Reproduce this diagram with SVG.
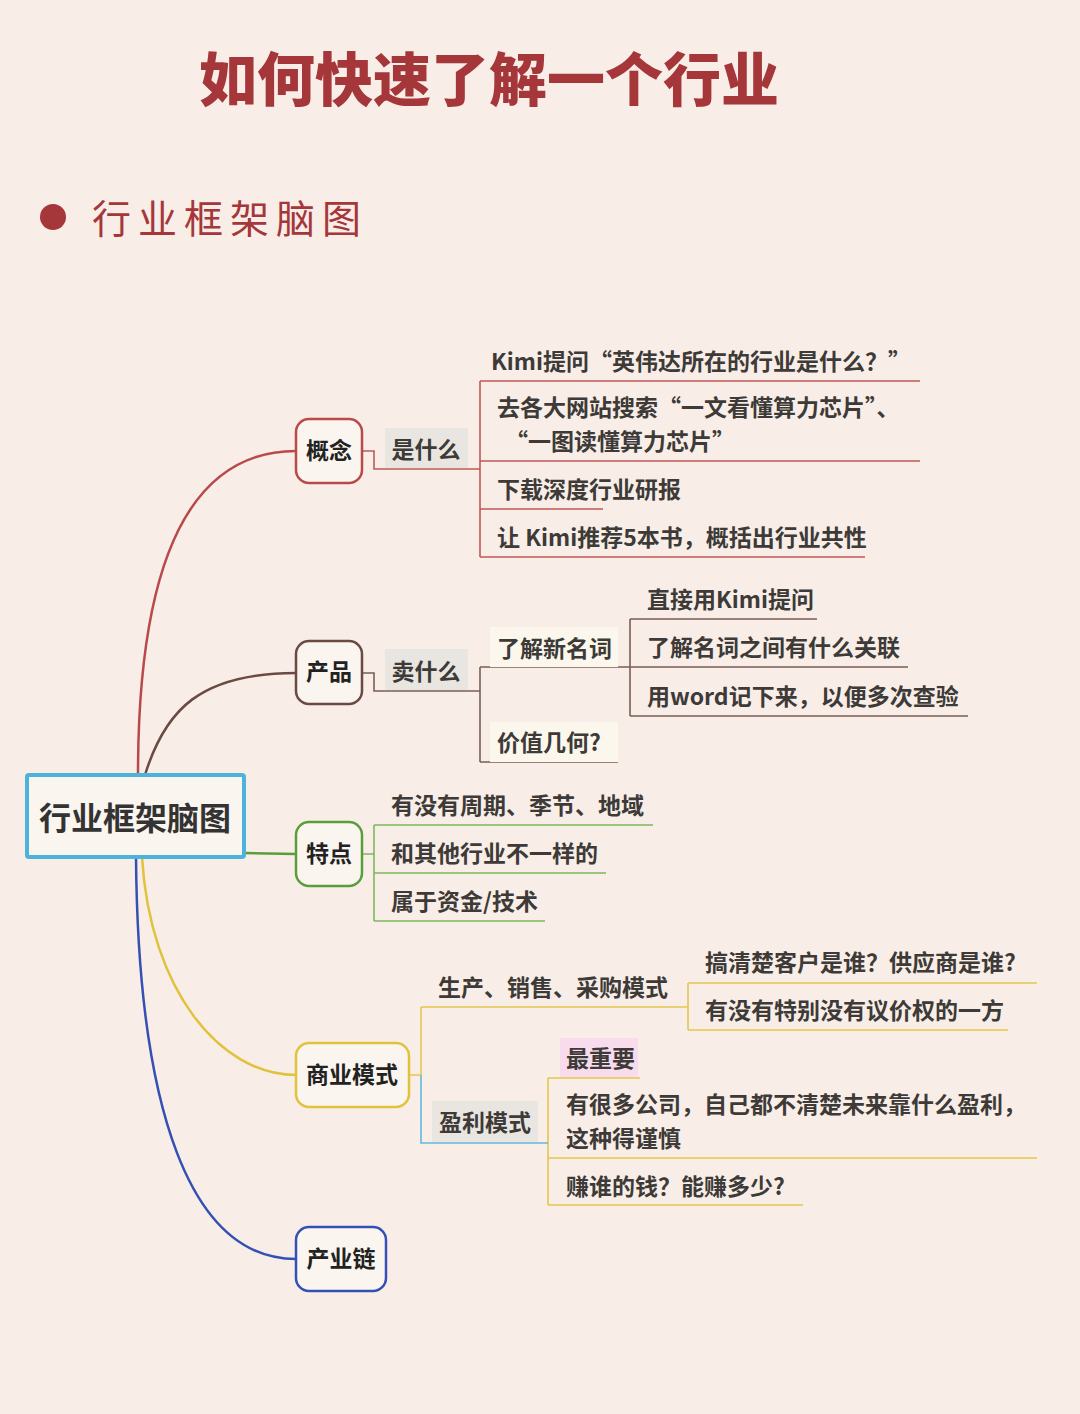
<svg xmlns="http://www.w3.org/2000/svg" width="1080" height="1414" viewBox="0 0 1080 1414">
<style>
text{font-family:"Noto Sans CJK SC","Liberation Sans",sans-serif;}
.t{font-size:23px;font-weight:700;fill:#3d3a38;}
.nt{font-size:23px;font-weight:700;fill:#222;}
.node{fill:#fbf5ef;stroke-width:2.5;}
.lbl{fill:#e9e5e1;}
.lbl2{fill:#fbf7ec;}
.c{fill:none;stroke-width:1.6;}
.br{fill:none;stroke-width:2.5;}
</style>
<rect width="1080" height="1414" fill="#f8eee7"/>
<text x="489" y="101" text-anchor="middle" style="font-size:58px;font-weight:900;fill:#a5363a">如何快速了解一个行业</text>
<circle cx="53" cy="217" r="13" fill="#a5363a"/>
<text x="92" y="233" style="font-size:39px;font-weight:400;fill:#a5363a;letter-spacing:7px">行业框架脑图</text>

<g id="connectors">
  <path class="br" stroke="#b84a4a" d="M138,775 C138,560 190,451 296,451"/>
  <path class="br" stroke="#6a4a42" d="M145,775 C165,710 200,673 296,673"/>
  <path class="br" stroke="#5a9e3c" d="M244,853 L296,854"/>
  <path class="br" stroke="#e0c23c" d="M142,857 C150,990 220,1075 296,1075"/>
  <path class="br" stroke="#3450b4" d="M136,857 C138,1110 190,1259 296,1259"/>
  <!-- 概念 -->
  <path class="c" stroke="#c05858" d="M362,451 H374 V469 H480 M480,381 V557 M480,381 H920 M480,461 H920 M480,509 H603 M480,557 H865"/>
  <!-- 产品 -->
  <path class="c" stroke="#7a5e56" d="M362,673 H374 V691 H480 M480,667 V762 M480,667 H630 M480,762 H618 M630,619 V716 M630,619 H817 M630,667 H908 M630,716 H968"/>
  <!-- 特点 -->
  <path class="c" stroke="#7cb85c" d="M362,854 H374 M374,825 V921 M374,825 H653 M374,873 H606 M374,921 H545"/>
  <!-- 商业模式 -->
  <path class="c" stroke="#e3c84e" d="M409,1075 H421 M421,1007 V1075 M421,1007 H688 M688,983 V1030 M688,983 H1037 M688,1030 H1008 M548,1078 V1205 M548,1078 H640 M548,1158 H1037 M548,1205 H803"/>
  <path class="c" stroke="#62b8e0" d="M421,1075 V1143 H548"/>
</g>

<g id="root">
  <rect x="27" y="775" width="217" height="82" fill="#fbf5ef" stroke="#4bb3dc" stroke-width="4" rx="2"/>
  <text x="135" y="830" text-anchor="middle" style="font-size:32px;font-weight:700;fill:#333">行业框架脑图</text>
</g>

<g id="n-gainian">
  <rect class="node" x="296" y="419" width="66" height="64" rx="13" stroke="#b84a4a"/>
  <text class="nt" x="329" y="459" text-anchor="middle">概念</text>
</g>
<g id="n-shishenme">
  <rect class="lbl" x="385" y="428" width="83" height="40"/>
  <text class="t" x="426" y="458" text-anchor="middle">是什么</text>
</g>
<g id="n-g1"><text class="t" x="491" y="370">Kimi提问“英伟达所在的行业是什么？”</text></g>
<g id="n-g2"><text class="t" x="497" y="416">去各大网站搜索“一文看懂算力芯片”、</text><text class="t" x="505" y="450">“一图读懂算力芯片”</text></g>
<g id="n-g3"><text class="t" x="497" y="498">下载深度行业研报</text></g>
<g id="n-g4"><text class="t" x="497" y="546">让 Kimi推荐5本书，概括出行业共性</text></g>

<g id="n-chanpin">
  <rect class="node" x="296" y="641" width="66" height="63" rx="13" stroke="#6a4a42"/>
  <text class="nt" x="329" y="680" text-anchor="middle">产品</text>
</g>
<g id="n-maishenme">
  <rect class="lbl" x="385" y="649" width="83" height="41"/>
  <text class="t" x="426" y="680" text-anchor="middle">卖什么</text>
</g>
<g id="n-xinmingci">
  <rect class="lbl2" x="490" y="627" width="128" height="40"/>
  <text class="t" x="497" y="657">了解新名词</text>
</g>
<g id="n-p1"><text class="t" x="647" y="608">直接用Kimi提问</text></g>
<g id="n-p2"><text class="t" x="647" y="656">了解名词之间有什么关联</text></g>
<g id="n-p3"><text class="t" x="647" y="705">用word记下来，以便多次查验</text></g>
<g id="n-jiazhi">
  <rect class="lbl2" x="490" y="722" width="128" height="40"/>
  <text class="t" x="497" y="751">价值几何?</text>
</g>

<g id="n-tedian">
  <rect class="node" x="296" y="822" width="66" height="64" rx="13" stroke="#5a9e3c"/>
  <text class="nt" x="329" y="862" text-anchor="middle">特点</text>
</g>
<g id="n-t1"><text class="t" x="391" y="814">有没有周期、季节、地域</text></g>
<g id="n-t2"><text class="t" x="391" y="862">和其他行业不一样的</text></g>
<g id="n-t3"><text class="t" x="391" y="910">属于资金/技术</text></g>

<g id="n-shangye">
  <rect class="node" x="296" y="1043" width="113" height="64" rx="13" stroke="#e0c23c"/>
  <text class="nt" x="352" y="1083" text-anchor="middle">商业模式</text>
</g>
<g id="n-shengchan"><text class="t" x="438" y="996">生产、销售、采购模式</text></g>
<g id="n-s1"><text class="t" x="705" y="971">搞清楚客户是谁？供应商是谁?</text></g>
<g id="n-s2"><text class="t" x="705" y="1019">有没有特别没有议价权的一方</text></g>
<g id="n-yingli">
  <rect class="lbl" x="432" y="1101" width="106" height="41"/>
  <text class="t" x="485" y="1131" text-anchor="middle">盈利模式</text>
</g>
<g id="n-zuizhongyao">
  <rect x="560" y="1038" width="78" height="39" fill="#f8dcee"/>
  <text class="t" x="566" y="1067">最重要</text>
</g>
<g id="n-y1"><text class="t" x="566" y="1113">有很多公司，自己都不清楚未来靠什么盈利，</text><text class="t" x="566" y="1147">这种得谨慎</text></g>
<g id="n-y2"><text class="t" x="566" y="1195">赚谁的钱？能赚多少?</text></g>

<g id="n-chanyelian">
  <rect class="node" x="296" y="1227" width="90" height="64" rx="13" stroke="#3450b4"/>
  <text class="nt" x="341" y="1267" text-anchor="middle">产业链</text>
</g>
</svg>
